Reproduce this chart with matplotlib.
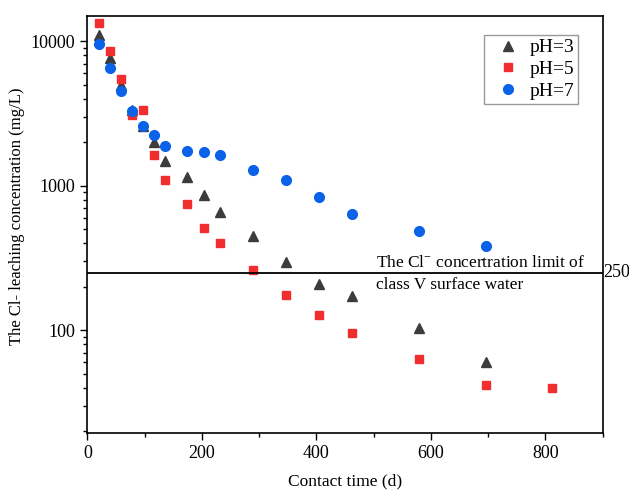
import matplotlib
matplotlib.use("Agg")
import matplotlib.pyplot as plt
from matplotlib.ticker import FixedLocator, FixedFormatter, LogLocator, NullFormatter, MultipleLocator

plt.rcParams['font.family'] = ['Liberation Serif', 'DejaVu Serif']
plt.rcParams['mathtext.fontset'] = 'custom'
plt.rcParams['mathtext.rm'] = 'Liberation Serif'

t_ph3 = [20, 39, 58, 77, 97, 116, 136, 174, 203, 232, 289, 347, 405, 462, 579, 696]
c_ph3 = [11100, 7710, 4960, 3330, 2580, 2010, 1486, 1151, 859, 659, 448, 296, 210, 173, 104.5, 60.4]

t_ph5 = [20, 39, 58, 77, 97, 116, 136, 174, 203, 232, 289, 347, 405, 462, 579, 696, 811]
c_ph5 = [13390, 8530, 5480, 3090, 3330, 1645, 1092, 754, 514, 400, 260, 177, 128.5, 95.7, 63, 42.1, 40.1]

t_ph7 = [20, 39, 58, 77, 97, 116, 136, 174, 203, 232, 289, 347, 405, 462, 579, 696]
c_ph7 = [9490, 6530, 4510, 3280, 2580, 2233, 1875, 1734, 1714, 1645, 1280, 1104, 836, 643, 490, 381]

limit_value = 250
labels = ["pH=3", "pH=5", "pH=7"]

fig = plt.figure(figsize=(6.29, 4.91), dpi=100)
ax = fig.add_axes([0.139, 0.1187, 0.819, 0.8493])

ax.plot(t_ph3, c_ph3, linestyle='none', marker='^', markersize=7.5, color='#3c3c3c', label=labels[0])
ax.plot(t_ph5, c_ph5, linestyle='none', marker='s', markersize=6, color='#f02e2e', label=labels[1])
ax.plot(t_ph7, c_ph7, linestyle='none', marker='o', markersize=7, color='#0a62e8', label=labels[2])

ax.axhline(limit_value, color='black', linewidth=1.3)

ax.set_yscale('log')
ax.set_xlim(0, 900)
ax.set_ylim(19.6, 15000)

ax.yaxis.set_major_locator(FixedLocator([100, 1000, 10000]))
ax.yaxis.set_major_formatter(FixedFormatter(['100', '1000', '10000']))
ax.yaxis.set_minor_locator(LogLocator(base=10, subs=[2, 3, 4, 5, 6, 7, 8, 9]))
ax.yaxis.set_minor_formatter(NullFormatter())
ax.xaxis.set_major_locator(MultipleLocator(200))
ax.xaxis.set_minor_locator(MultipleLocator(100))

ax.tick_params(which='both', direction='out', top=False, right=False, labelsize=13, width=1)
ax.tick_params(which='major', length=5, pad=4)
ax.tick_params(which='minor', length=3)
for s in ax.spines.values():
    s.set_linewidth(1.2)

ax.set_xlabel('Contact time (d)', fontsize=12.5, labelpad=8)
ax.set_ylabel('The Cl- leaching concentration (mg/L)', fontsize=12)
ax.yaxis.set_label_coords(-0.121, 0.52)

ax.text(504, limit_value * 1.17, 'The Cl$^{-}$ concertration limit of', fontsize=12.5,
        ha='left', va='center')
ax.text(504, limit_value / 1.22, 'class V surface water', fontsize=12.5,
        ha='left', va='center')
ax.text(1.002, limit_value, '250', transform=ax.get_yaxis_transform(), fontsize=13,
        ha='left', va='center')

leg = ax.legend(loc='upper right', bbox_to_anchor=(0.952, 0.954), borderaxespad=0, fontsize=14,
                frameon=True, fancybox=False, edgecolor='#999999', framealpha=1,
                handletextpad=0.1, borderpad=0.2, labelspacing=0.21, handlelength=2.0)
leg.get_frame().set_linewidth(1.0)

fig.savefig('out.png', dpi=100)
